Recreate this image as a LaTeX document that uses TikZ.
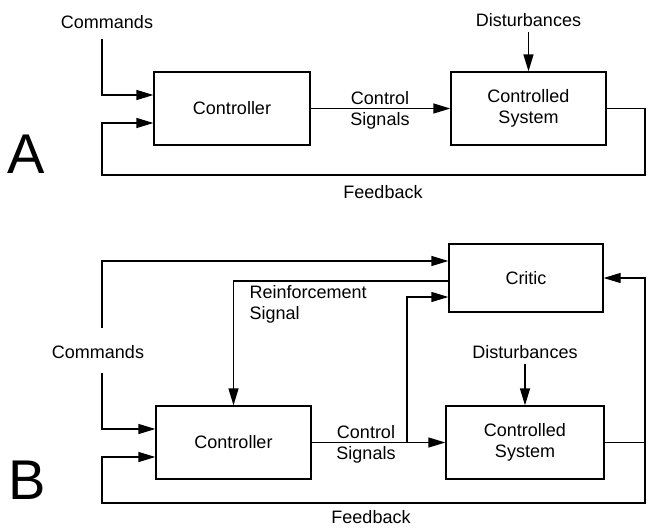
\documentclass[tikz,border=0pt]{standalone}
\usepackage{fontspec}
\setmainfont{Liberation Sans}
\usetikzlibrary{arrows.meta, positioning, calc}

\begin{document}
\begin{tikzpicture}[x=1pt, y=-1pt, line width=1.3pt,
    every node/.style={font=\fontsize{18}{21}\selectfont, inner sep=5pt},
    block/.style={draw, align=center, minimum height=73pt},
    arr/.style={-{Triangle[length=17pt, width=10pt]}},
    bigletter/.style={font=\fontsize{56}{56}\selectfont, anchor=base}]
    \useasboundingbox (0,0) rectangle (651,528);

    % A: Regelkreis
    \node[block, minimum width=156pt] (ctrlA) at (232,108.5) {Controller};
    \node[block, minimum width=155pt] (plantA) at (528.5,108.5) {Controlled\\System};
    \node[anchor=base] (cmdA) at (107,28) {Commands};
    \node[anchor=base] (distA) at (528.5,26) {Disturbances};
    \node[align=center] (sigA) at (380,110) {Control\\Signals};
    \node[anchor=base] (fbA) at (383,198) {Feedback};
    \node[bigletter] (letterA) at (26,173) {A};

    \coordinate (busA) at (102,39);
    \coordinate (cmdinA) at ($(ctrlA.west)+(0,-13.5)$);
    \coordinate (fbinA) at ($(ctrlA.west)+(0,14.5)$);
    \coordinate (fbrA) at (645,175);
    \coordinate (fblA) at (102,175);

    \draw[arr] (busA) |- (cmdinA);
    \draw[arr] (ctrlA) -- (plantA);
    \draw[arr] (distA) -- (plantA);
    \draw[arr] (plantA.east) -| (fbrA) -- (fblA) |- (fbinA);

    % B: mit Critic
    \node[block, minimum width=154pt, minimum height=68pt] (critic) at (526,278) {Critic};
    \node[block, minimum width=155pt] (ctrlB) at (233.5,442.5) {Controller};
    \node[block, minimum width=158pt] (plantB) at (525,442.5) {Controlled\\System};
    \node[anchor=base] (cmdB) at (98,358) {Commands};
    \node[anchor=base] (distB) at (525,358) {Disturbances};
    \node[align=left, anchor=west] (reinf) at (244,304) {Reinforcement\\Signal};
    \node[align=center] (sigB) at (366,444) {Control\\Signals};
    \node[anchor=base] (fbB) at (371,523) {Feedback};
    \node[bigletter] (letterB) at (27,499) {B};

    \coordinate (cmdtopB) at (102,328);
    \coordinate (cmdbotB) at (102,373);
    \coordinate (cmdinC) at ($(critic.west)+(0,-17)$);
    \coordinate (reinfout) at ($(critic.west)+(0,3)$);
    \coordinate (sigC) at ($(critic.west)+(0,19)$);
    \coordinate (cmdinB) at ($(ctrlB.west)+(0,-13.5)$);
    \coordinate (fbinB) at ($(ctrlB.west)+(0,14.5)$);
    \coordinate (brB) at (407,442.5);
    \coordinate (fbjB) at (645,442.5);
    \coordinate (fbbrB) at (645,503);
    \coordinate (fbblB) at (102,503);

    \draw[arr] (cmdtopB) |- (cmdinC);
    \draw[arr] (cmdbotB) |- (cmdinB);
    \draw[arr] (reinfout) -| (ctrlB.north);
    \draw[arr] (ctrlB) -- (plantB);
    \draw[arr] (brB) |- (sigC);
    \draw[arr] (distB) -- (plantB);
    \draw (plantB.east) -- (fbjB);
    \draw[arr] (fbjB) |- (critic.east);
    \draw[arr] (fbjB) -- (fbbrB) -- (fbblB) |- (fbinB);
\end{tikzpicture}
\end{document}
